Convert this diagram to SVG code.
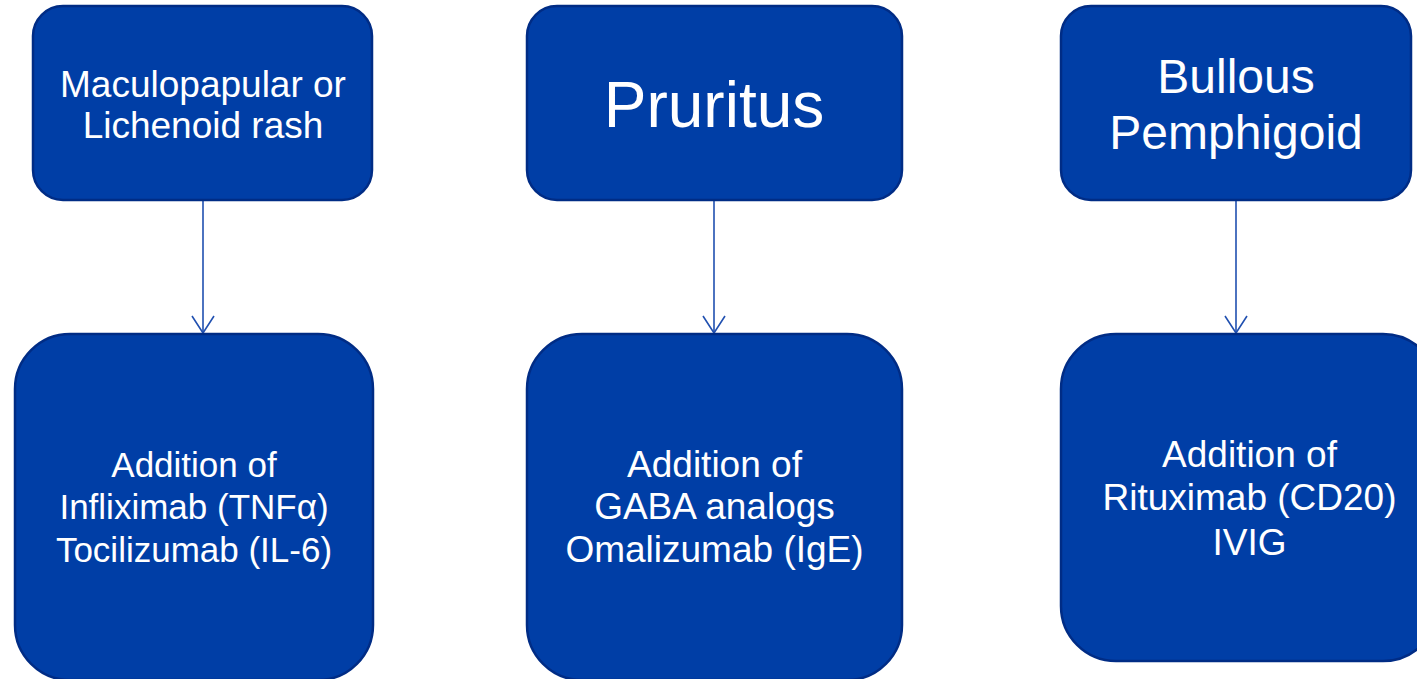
<svg xmlns="http://www.w3.org/2000/svg" width="1417" height="679" viewBox="0 0 1417 679">
<style>
.box{fill:#003EA6;stroke:#002C85;stroke-width:2.5}
.t{fill:#FFFFFF;font-family:"Liberation Sans",Arial,sans-serif;text-anchor:middle}
.conn{stroke:#2050B0;stroke-width:1.6;fill:none}
</style>
<defs>
<marker id="arr" markerWidth="24" markerHeight="24" refX="20" refY="12" orient="auto" markerUnits="userSpaceOnUse">
<path d="M3,1 L20,12 L3,23" fill="none" stroke="#2050B0" stroke-width="1.6"/>
</marker>
</defs>
<g id="connectors">
<line class="conn" x1="203" y1="201" x2="203" y2="333" marker-end="url(#arr)"/>
<line class="conn" x1="714" y1="201" x2="714" y2="333" marker-end="url(#arr)"/>
<line class="conn" x1="1236" y1="201" x2="1236" y2="333" marker-end="url(#arr)"/>
</g>
<g id="n1">
<rect class="box" x="33" y="6" width="339" height="194" rx="30" ry="30"/>
<text class="t" font-size="37" x="203" y="97">Maculopapular or</text>
<text class="t" font-size="37" x="203" y="138">Lichenoid rash</text>
</g>
<g id="n2">
<rect class="box" x="527" y="6" width="375" height="194" rx="30" ry="30"/>
<text class="t" font-size="64" x="714" y="127">Pruritus</text>
</g>
<g id="n3">
<rect class="box" x="1061" y="6" width="350" height="194" rx="30" ry="30"/>
<text class="t" font-size="48" x="1236" y="93">Bullous</text>
<text class="t" font-size="48" x="1236" y="149">Pemphigoid</text>
</g>
<g id="n4">
<rect class="box" x="15" y="334" width="358" height="346" rx="55" ry="55"/>
<text class="t" font-size="35" x="194" y="477">Addition of</text>
<text class="t" font-size="35" x="194" y="519">Infliximab (TNFα)</text>
<text class="t" font-size="35" x="194" y="562">Tocilizumab (IL-6)</text>
</g>
<g id="n5">
<rect class="box" x="527" y="334" width="375" height="346" rx="55" ry="55"/>
<text class="t" font-size="37" x="714.5" y="477">Addition of</text>
<text class="t" font-size="37" x="714.5" y="519">GABA analogs</text>
<text class="t" font-size="37" x="714.5" y="562">Omalizumab (IgE)</text>
</g>
<g id="n6">
<rect class="box" x="1061" y="334" width="377" height="327" rx="55" ry="55"/>
<text class="t" font-size="37" x="1249.5" y="467">Addition of</text>
<text class="t" font-size="37" x="1249.5" y="510">Rituximab (CD20)</text>
<text class="t" font-size="37" x="1249.5" y="555">IVIG</text>
</g>
</svg>
